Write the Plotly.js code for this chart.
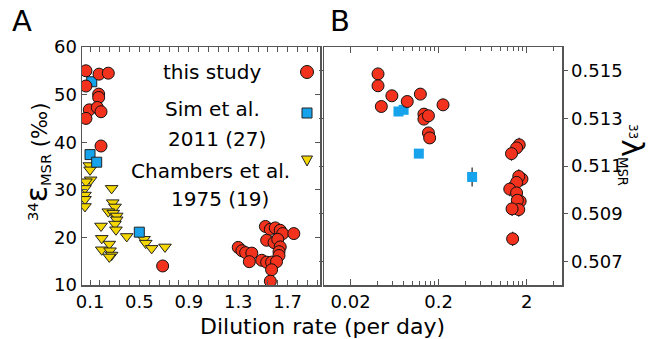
<!DOCTYPE html>
<html>
<head>
<meta charset="utf-8">
<script src="https://cdn.plot.ly/plotly-3.0.1.min.js"></script>
<style>html,body{margin:0;padding:0;background:#fff;}#chart{width:666px;height:339px;}</style>
</head>
<body>
<div id="chart"></div>
<script>
// ---------- Panel A data (34-epsilon vs dilution rate) ----------
const aStudyX = [0.067, 0.067, 0.173, 0.248, 0.170, 0.170, 0.094, 0.067, 0.159, 0.189, 0.189, 0.688,
                 1.30, 1.33, 1.36, 1.41, 1.39, 1.52, 1.56, 1.60, 1.64, 1.66, 1.75, 1.53, 1.59, 1.62,
                 1.64, 1.63, 1.63, 1.49, 1.53, 1.57, 1.61, 1.57, 1.56];
const aStudyY = [55.0, 51.8, 54.3, 54.5, 50.1, 49.4, 46.8, 45.0, 47.3, 46.4, 39.2, 14.0,
                 17.9, 17.2, 16.8, 16.7, 14.9, 22.3, 21.7, 22.0, 21.5, 20.8, 20.8, 19.4, 18.9, 19.6,
                 18.0, 17.0, 16.2, 15.2, 14.8, 14.8, 14.9, 13.2, 10.8];
const aSimX = [0.114, 0.100, 0.154, 0.499];
const aSimY = [52.7, 37.4, 35.8, 21.1];
const aChamX = [0.094, 0.100, 0.105, 0.067, 0.059, 0.059, 0.059, 0.059, 0.275, 0.284, 0.302, 0.248,
                0.288, 0.316, 0.316, 0.302, 0.310, 0.189, 0.195, 0.195, 0.256, 0.262, 0.275, 0.256,
                0.397, 0.537, 0.551, 0.599, 0.707];
const aChamY = [35.1, 34.2, 32.1, 31.7, 30.3, 28.9, 28.0, 26.5, 30.3, 27.3, 26.4, 25.4,
                25.1, 24.5, 23.7, 22.8, 21.6, 22.4, 19.8, 17.4, 18.6, 17.2, 16.3, 15.9,
                20.2, 19.6, 18.8, 17.7, 18.0];
const aTickVals = [0.1, 0.5, 0.9, 1.3, 1.7];

// ---------- Panel B data (33-lambda vs dilution rate, log x) ----------
const bStudyX = [0.041, 0.041, 0.0447, 0.0589, 0.088, 0.124, 0.224, 0.136, 0.136, 0.153, 0.153, 0.158,
                 1.64, 1.53, 1.34, 1.76, 1.62, 1.53, 1.28, 1.53, 1.68, 1.56, 1.62, 1.36, 1.38];
const bStudyY = [0.51487, 0.51437, 0.51350, 0.51395, 0.51371, 0.51402, 0.51357, 0.51318, 0.51297, 0.51311, 0.51239, 0.51218,
                 0.51189, 0.51176, 0.51152, 0.51045, 0.51056, 0.51031, 0.51003, 0.50987, 0.50952, 0.50956, 0.50917, 0.50920, 0.50794];
const bStudyErr = [0, 0, 0, 0, 0, 0, 0, 0, 0, 0, 0, 0,
                   0.0003, 0.0003, 0.0003, 0.0003, 0.0003, 0.0003, 0.0003, 0.0003, 0.0003, 0.0003, 0.0003, 0.0003, 0.0003];
const bSimX = [0.070, 0.080, 0.119, 0.479];
const bSimY = [0.51329, 0.51336, 0.51152, 0.51054];
const bSimErr = [0, 0, 0.0001, 0.0004];
const bTickVals = [0.02, 0.2, 2];
const bTickText = ['0.02', '0.2', '2'];
const bMinorTicks = [0.01, 0.02, 0.04, 0.06, 0.08, 0.1, 0.12, 0.14, 0.16, 0.18, 0.2, 0.4, 0.6, 0.8, 1.0, 1.2, 1.4, 1.6, 1.8, 2, 4];
const bYTicks = [0.507, 0.509, 0.511, 0.513, 0.515];

// legend labels
const legendLines = ['this study', 'Sim et al.', '2011 (27)', 'Chambers et al.', '1975 (19)'];

const RED = '#f2321c', BLUE = '#17a2ec', YELLOW = '#f4d600', AX = '#555555';
const FONT = 'DejaVu Sans, Verdana, sans-serif';
const W = 666, H = 339;
const px = v => v / W, py = v => 1 - v / H;

const traces = [
  {x: aChamX, y: aChamY, xaxis: 'x', yaxis: 'y', mode: 'markers', type: 'scatter',
   marker: {symbol: 'triangle-down', size: 11, color: YELLOW, line: {color: '#222', width: 1}}},
  {x: aSimX, y: aSimY, xaxis: 'x', yaxis: 'y', mode: 'markers', type: 'scatter',
   marker: {symbol: 'square', size: 10, color: BLUE, line: {color: '#222', width: 1}}},
  {x: aStudyX, y: aStudyY, xaxis: 'x', yaxis: 'y', mode: 'markers', type: 'scatter',
   marker: {symbol: 'circle', size: 12, color: RED, line: {color: '#111', width: 1}}},
  {x: bSimX, y: bSimY, xaxis: 'x2', yaxis: 'y2', mode: 'markers', type: 'scatter',
   error_y: {type: 'data', array: bSimErr, visible: true, color: '#222', thickness: 1.2, width: 0},
   marker: {symbol: 'square', size: 10, color: BLUE, line: {width: 0}}},
  {x: bStudyX, y: bStudyY, xaxis: 'x2', yaxis: 'y2', mode: 'markers', type: 'scatter',
   error_y: {type: 'data', array: bStudyErr, visible: true, color: '#222', thickness: 1.2, width: 0},
   marker: {symbol: 'circle', size: 12, color: RED, line: {color: '#111', width: 1}}}
];

const yTop = py(47), yBot = py(285);
const common = {showgrid: false, zeroline: false, showline: true, linecolor: AX, linewidth: 1.5,
                tickcolor: AX, tickwidth: 1, tickfont: {family: FONT, size: 18, color: '#000'}};

function ann(text, x, y, size, extra) {
  return Object.assign({text: text, x: px(x), y: py(y), xref: 'paper', yref: 'paper', showarrow: false,
    xanchor: 'center', yanchor: 'middle', font: {size: size, family: FONT, color: '#000'}}, extra || {});
}

const layout = {
  width: W, height: H, margin: {l: 0, r: 0, t: 0, b: 0},
  paper_bgcolor: '#fff', plot_bgcolor: '#fff', showlegend: false,
  font: {family: FONT, color: '#000'},
  xaxis: Object.assign({}, common, {domain: [px(82), px(320)], range: [0.035, 1.962], anchor: 'y',
    tickmode: 'array', tickvals: aTickVals, ticktext: aTickVals.map(v => v.toFixed(1)),
    ticks: 'inside', ticklen: 5, mirror: 'ticks',
    minor: {tick0: 0.1, dtick: 0.08, ticks: 'inside', ticklen: 5, tickcolor: AX}}),
  yaxis: Object.assign({}, common, {domain: [yBot, yTop], range: [10, 60], anchor: 'x',
    tickvals: [10, 20, 30, 40, 50, 60], ticks: 'inside', ticklen: 5, mirror: 'ticks'}),
  xaxis2: Object.assign({}, common, {domain: [px(324), px(562)], type: 'log', range: [-2.0, 0.7], anchor: 'y2',
    tickmode: 'array', tickvals: bTickVals, ticktext: bTickText,
    ticks: 'inside', ticklen: 6, mirror: 'ticks',
    minor: {tickmode: 'array', tickvals: bMinorTicks, ticks: 'inside', ticklen: 4, tickcolor: AX}}),
  yaxis2: Object.assign({}, common, {domain: [yBot, yTop], range: [0.506, 0.516], anchor: 'x2', side: 'right',
    tickmode: 'array', tickvals: bYTicks, ticktext: bYTicks.map(v => v.toFixed(3)),
    ticks: 'outside', ticklen: 4, mirror: 'ticks'}),
  annotations: [
    ann('A', 22, 21, 29),
    ann('B', 340, 21, 29),
    ann('Dilution rate (per day)', 322, 326, 22),
    ann('<span style="font-size:21px"><sup>34</sup></span>ε<span style="font-size:21px"><sub>MSR</sub> (‰)</span>',
        36, 162, 30, {textangle: -90}),
    ann('<span style="font-size:17px"><sup>33</sup></span>λ<span style="font-size:19px"><sub>MSR</sub></span>',
        633, 155, 30, {textangle: 90}),
    ann(legendLines[0], 212, 72, 20),
    ann(legendLines[1], 212, 109, 20),
    ann(legendLines[2], 217, 139, 20),
    ann(legendLines[3], 210, 171, 20),
    ann(legendLines[4], 220, 199, 20)
  ],
  shapes: [
    {type: 'circle', xref: 'paper', yref: 'paper', x0: px(300.5), x1: px(313.5), y0: py(78.5), y1: py(65.5),
     fillcolor: RED, line: {color: '#111', width: 1}},
    {type: 'rect', xref: 'paper', yref: 'paper', x0: px(302), x1: px(312), y0: py(118), y1: py(108),
     fillcolor: BLUE, line: {color: '#222', width: 1}},
    {type: 'path', xref: 'paper', yref: 'paper',
     path: 'M ' + px(301.5) + ' ' + py(156) + ' L ' + px(312.5) + ' ' + py(156) + ' L ' + px(307) + ' ' + py(166) + ' Z',
     fillcolor: YELLOW, line: {color: '#222', width: 1}}
  ]
};

Plotly.newPlot('chart', traces, layout, {staticPlot: true, displayModeBar: false});
</script>
</body>
</html>
